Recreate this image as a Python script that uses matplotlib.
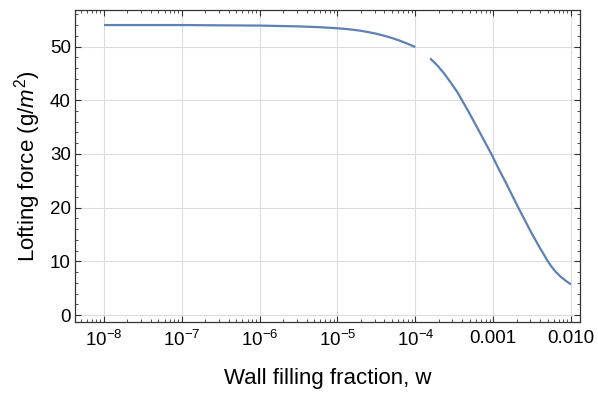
import matplotlib
matplotlib.use('Agg')
import matplotlib.pyplot as plt
from matplotlib.ticker import LogLocator, MultipleLocator, NullFormatter

# values (w, lofting force in g/m^2)
w_low = [1e-8, 1e-7, 1e-6, 3.16e-6, 5.9e-6, 1e-5, 1.26e-5, 1.58e-5, 2.0e-5,
         2.51e-5, 3.16e-5, 3.98e-5, 5.01e-5, 6.31e-5, 7.94e-5, 1e-4]
force_low = [54.0, 54.0, 53.9, 53.75, 53.6, 53.4, 53.28, 53.13, 52.93,
             52.68, 52.38, 52.01, 51.59, 51.09, 50.52, 49.9]

w_high = [1.55e-4, 1.91e-4, 2.34e-4, 2.88e-4, 3.47e-4, 3.98e-4, 4.9e-4,
          6.03e-4, 7.59e-4, 9.55e-4, 1.17e-3, 1.45e-3, 1.78e-3, 2.14e-3,
          2.63e-3, 3.16e-3, 3.55e-3, 3.98e-3, 4.47e-3, 4.9e-3, 5.5e-3,
          6.31e-3, 7.41e-3, 8.71e-3, 1.0e-2]
force_high = [47.8, 46.5, 45.0, 43.2, 41.5, 40.0, 37.7,
              35.3, 32.6, 29.9, 27.3, 24.7, 22.1, 19.8,
              17.3, 15.1, 13.8, 12.5, 11.3, 10.3, 9.2,
              8.1, 7.1, 6.3, 5.7]

xticks = [1e-8, 1e-7, 1e-6, 1e-5, 1e-4, 1e-3, 1e-2]
xtick_labels = [r'$10^{-8}$', r'$10^{-7}$', r'$10^{-6}$', r'$10^{-5}$',
                r'$10^{-4}$', '0.001', '0.010']
yticks = [0, 10, 20, 30, 40, 50]

plt.rcParams['font.family'] = ['Liberation Sans', 'DejaVu Sans']
plt.rcParams['mathtext.fontset'] = 'custom'
plt.rcParams['mathtext.rm'] = 'Liberation Sans'
plt.rcParams['mathtext.it'] = 'Liberation Sans:italic'

fig = plt.figure(figsize=(5.98, 3.96), dpi=100)
ax = fig.add_axes([0.1254, 0.1869, 0.8445, 0.7878])

line_color = '#5E81B5'
ax.plot(w_low, force_low, color=line_color, lw=1.6, solid_capstyle='butt')
ax.plot(w_high, force_high, color=line_color, lw=1.6, solid_capstyle='butt')

ax.set_xscale('log')
ax.set_xlim(10 ** -8.373, 10 ** -1.884)
ax.set_ylim(-1.3, 56.8)

ax.set_xticks(xticks)
ax.set_xticklabels(xtick_labels)
ax.xaxis.set_minor_locator(LogLocator(base=10, subs=range(2, 10), numticks=20))
ax.xaxis.set_minor_formatter(NullFormatter())
ax.set_yticks(yticks)
ax.yaxis.set_minor_locator(MultipleLocator(2))

ax.grid(True, which='major', color='#dcdcdc', lw=0.8)
ax.set_axisbelow(True)

ax.tick_params(which='both', direction='in', top=True, right=True,
               colors='#333333', labelcolor='black', labelsize=13.5)
ax.tick_params(which='major', length=4, width=0.8)
ax.tick_params(which='minor', length=2.3, width=0.6)
ax.tick_params(axis='x', pad=6)
ax.tick_params(axis='y', pad=3)

for s in ax.spines.values():
    s.set_color('#333333')
    s.set_linewidth(0.9)

ax.set_xlabel('Wall filling fraction, w', fontsize=16, labelpad=13)
ax.set_ylabel(r'Lofting force (g/$m^2$)', fontsize=16, labelpad=5)

plt.savefig('out.png', dpi=100)
plt.close('all')
